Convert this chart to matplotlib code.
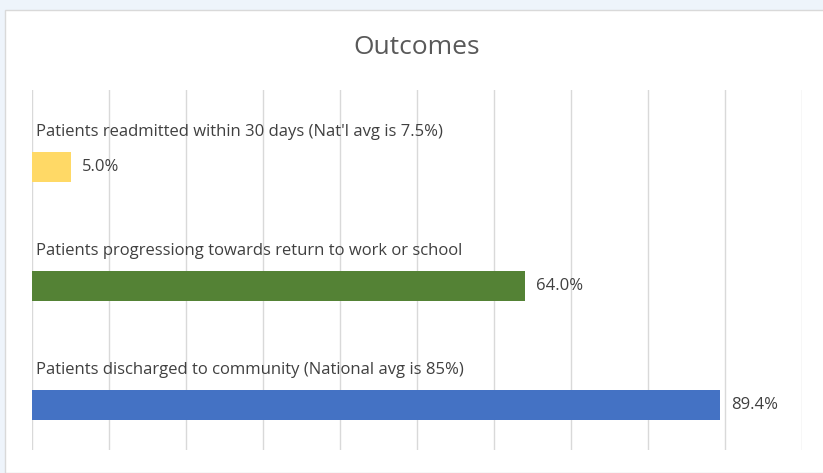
import matplotlib
matplotlib.use("Agg")
import matplotlib.pyplot as plt
from matplotlib.patches import Rectangle

categories = [
    "Patients discharged to community (National avg is 85%)",
    "Patients progressiong towards return to work or school",
    "Patients readmitted within 30 days (Nat'l avg is 7.5%)",
]
values = [89.4, 64.0, 5.0]
colors = ["#4472C4", "#548235", "#FFD966"]
title = "Outcomes"

plt.rcParams['font.family'] = ['Open Sans', 'DejaVu Sans']

W, H = 823, 473
fig = plt.figure(figsize=(W / 100, H / 100), dpi=100, facecolor="#EEF4FB")
fig.patches.append(Rectangle((5 / W, 0), 1, 1 - 10 / H, transform=fig.transFigure,
                             facecolor="white", edgecolor="#D9D9D9", linewidth=1, zorder=-5))

ax = fig.add_axes([32 / W, 1 - 450 / H, (802 - 32) / W, (450 - 90) / H])
ax.set_facecolor("none")
ax.set_zorder(2)
ypos = list(range(len(categories)))
ax.barh(ypos, values, height=0.26, color=colors, zorder=3)
ax.set_xlim(0, 100)
ax.set_ylim(-0.378, 2.647)
ax.set_xticks(range(0, 101, 10))
ax.set_axisbelow(True)
ax.xaxis.grid(True, color="#D9D9D9", linewidth=1)
ax.tick_params(length=0, labelbottom=False, labelleft=False)
for s in ax.spines.values():
    s.set_visible(False)

for y, v, c in zip(ypos, values, categories):
    ax.annotate(c, (0, y), xytext=(4, 35), textcoords="offset pixels",
                ha="left", va="center", fontsize=12, color="#404040", zorder=4)
    ax.annotate(f"{v:.1f}%", (v, y), xytext=(11, 0), textcoords="offset pixels",
                ha="left", va="center", fontsize=12, color="#404040", zorder=4)

fig.text(417 / W, 1 - 48 / H, title, ha="center", va="center", fontsize=19,
         color="#595959", zorder=5)

fig.savefig("out.png", dpi=100, facecolor=fig.get_facecolor())
